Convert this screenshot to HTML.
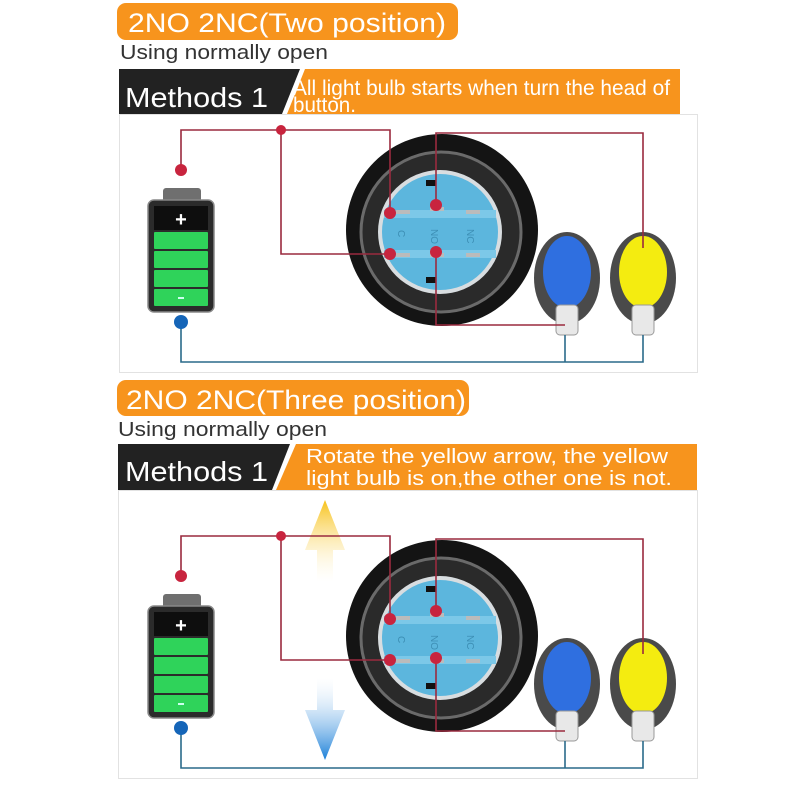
<!DOCTYPE html>
<html><head><meta charset="utf-8"><style>
html,body{margin:0;padding:0;background:#fff;}
svg{display:block;font-family:"Liberation Sans","DejaVu Sans",sans-serif;}
</style></head><body>
<svg width="800" height="800" viewBox="0 0 800 800" xmlns="http://www.w3.org/2000/svg">
<defs>
<linearGradient id="ya" x1="0" y1="0" x2="0" y2="1"><stop offset="0" stop-color="#f7c21a"/><stop offset="1" stop-color="#fff" stop-opacity="0.2"/></linearGradient>
<linearGradient id="ba" x1="0" y1="0" x2="0" y2="1"><stop offset="0" stop-color="#fff" stop-opacity="0.2"/><stop offset="1" stop-color="#1a7fd8"/></linearGradient>
<g id="diag">
  <circle cx="442" cy="230" r="96" fill="#141414"/>
  <circle cx="441" cy="232" r="80" fill="#2a2a2a" stroke="#6a6a6a" stroke-width="3"/>
  <circle cx="440" cy="232" r="62" fill="#d8dde0"/>
  <circle cx="440" cy="232" r="58" fill="#5cb6dd"/>
  <rect x="384" y="210" width="112" height="8" fill="#7cc8e8"/>
  <rect x="384" y="250" width="112" height="8" fill="#7cc8e8"/>
  <rect x="426" y="180" width="10" height="6" fill="#111"/>
  <rect x="426" y="277" width="10" height="6" fill="#111"/>
  <g fill="#bbb"><rect x="396" y="210" width="14" height="4"/><rect x="430" y="207" width="14" height="4"/><rect x="466" y="210" width="14" height="4"/>
  <rect x="396" y="253" width="14" height="4"/><rect x="430" y="253" width="14" height="4"/><rect x="466" y="253" width="14" height="4"/></g>
  <text x="400" y="240" font-size="10" fill="#3d8fb5" transform="rotate(90 404 234)">C</text>
  <text x="432" y="240" font-size="10" fill="#3d8fb5" transform="rotate(90 437 234)">NO</text>
  <text x="468" y="240" font-size="10" fill="#3d8fb5" transform="rotate(90 473 234)">NC</text>
  <rect x="163" y="188" width="38" height="16" rx="3" fill="#6f6f6f"/>
  <rect x="148" y="200" width="66" height="112" rx="6" fill="#2b2b2b" stroke="#888" stroke-width="1.5"/>
  <rect x="154" y="206" width="54" height="24" fill="#0e0e0e"/>
  <text x="181" y="226" font-size="20" fill="#fff" text-anchor="middle" font-weight="bold">+</text>
  <g fill="#2fd35a"><rect x="154" y="232" width="54" height="17" rx="1"/><rect x="154" y="251" width="54" height="17" rx="1"/><rect x="154" y="270" width="54" height="17" rx="1"/><rect x="154" y="289" width="54" height="17" rx="1"/></g>
  <rect x="178" y="297" width="6" height="2" fill="#cfe"/>
  <ellipse cx="567" cy="278" rx="33" ry="46" fill="#4a4a4a"/>
  <ellipse cx="567" cy="272" rx="24" ry="36" fill="#2f6fe0"/>
  <rect x="556" y="305" width="22" height="30" rx="4" fill="#e8e8e8" stroke="#999"/>
  <ellipse cx="643" cy="278" rx="33" ry="46" fill="#4a4a4a"/>
  <ellipse cx="643" cy="272" rx="24" ry="36" fill="#f4ec10"/>
  <rect x="632" y="305" width="22" height="30" rx="4" fill="#e8e8e8" stroke="#999"/>
  <g fill="none" stroke="#9a2a3e" stroke-width="1.6">
    <polyline points="181,170 181,130 390,130 390,213"/>
    <polyline points="281,130 281,254 390,254"/>
    <polyline points="436,205 436,133 643,133 643,248"/>
    <polyline points="436,252 436,325 565,325"/>
  </g>
  <g fill="none" stroke="#2a6a8a" stroke-width="1.6">
    <polyline points="181,322 181,362 643,362 643,335"/>
    <line x1="565" y1="335" x2="565" y2="362"/>
  </g>
  <g fill="#c8243e"><circle cx="181" cy="170" r="6"/><circle cx="281" cy="130" r="5"/><circle cx="390" cy="213" r="6"/><circle cx="390" cy="254" r="6"/><circle cx="436" cy="205" r="6"/><circle cx="436" cy="252" r="6"/></g>
  <circle cx="181" cy="322" r="7" fill="#1565b8"/>
</g>
</defs>

<rect x="117" y="3" width="341" height="37" rx="9" fill="#f7941d"/>
<text x="128" y="32" font-size="27" fill="#fff" textLength="318" lengthAdjust="spacingAndGlyphs">2NO 2NC(Two position)</text>
<text x="120" y="59" font-size="20" fill="#333" textLength="208" lengthAdjust="spacingAndGlyphs">Using  normally open</text>
<polygon points="119,69 300,69 282,114 119,114" fill="#222"/>
<polygon points="305,69 680,69 680,114 287,114" fill="#f7941d"/>
<text x="125" y="107" font-size="28" fill="#fff" textLength="143" lengthAdjust="spacingAndGlyphs">Methods 1</text>
<text x="293" y="95" font-size="21" fill="#fff" textLength="377" lengthAdjust="spacingAndGlyphs">All light bulb starts when turn the head of</text>
<text x="293" y="112" font-size="21" fill="#fff" textLength="63" lengthAdjust="spacingAndGlyphs">button.</text>
<rect x="119.5" y="114.5" width="578" height="258" fill="#fff" stroke="#e2e2e2"/>
<use href="#diag"/>

<rect x="117" y="380" width="352" height="36" rx="9" fill="#f7941d"/>
<text x="126" y="409" font-size="27" fill="#fff" textLength="340" lengthAdjust="spacingAndGlyphs">2NO 2NC(Three position)</text>
<text x="118" y="436" font-size="20" fill="#333" textLength="209" lengthAdjust="spacingAndGlyphs">Using  normally open</text>
<polygon points="118,444 290,444 272,490 118,490" fill="#222"/>
<polygon points="296,444 697,444 697,490 276,490" fill="#f7941d"/>
<text x="125" y="481" font-size="28" fill="#fff" textLength="143" lengthAdjust="spacingAndGlyphs">Methods 1</text>
<text x="306" y="463" font-size="20" fill="#fff" textLength="362" lengthAdjust="spacingAndGlyphs">Rotate the yellow arrow, the yellow</text>
<text x="306" y="485" font-size="20" fill="#fff" textLength="366" lengthAdjust="spacingAndGlyphs">light bulb is on,the other one is not.</text>
<rect x="118.5" y="490.5" width="579" height="288" fill="#fff" stroke="#e2e2e2"/>
<polygon points="325,500 345,550 333,550 333,582 317,582 317,550 305,550" fill="url(#ya)"/>
<polygon points="325,760 345,710 333,710 333,678 317,678 317,710 305,710" fill="url(#ba)"/>
<use href="#diag" transform="translate(0,406)"/>
</svg>
</body></html>
